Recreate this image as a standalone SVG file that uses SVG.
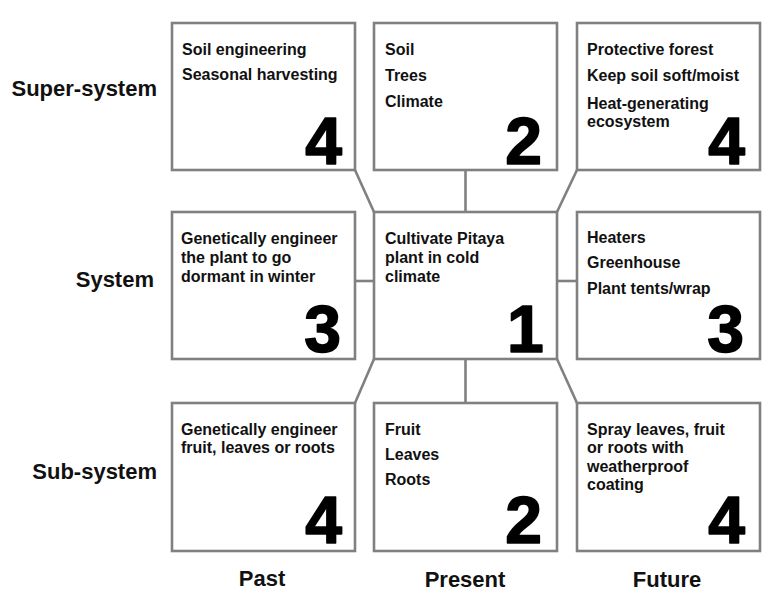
<svg xmlns="http://www.w3.org/2000/svg" width="774" height="596" viewBox="0 0 774 596">
<style>
.box{fill:#fff;stroke:#808080;stroke-width:2.6}
.conn line{stroke:#808080;stroke-width:2.6}
.t{font-family:"Liberation Sans",Arial,sans-serif;font-weight:bold;font-size:16px;fill:#111}
.num{font-family:"Liberation Sans",Arial,sans-serif;font-weight:bold;font-size:66px;fill:#000;stroke:#000;stroke-width:1.6;stroke-linejoin:round;text-anchor:end}
.lab{font-family:"Liberation Sans",Arial,sans-serif;font-weight:bold;font-size:22px;fill:#111}
</style>
<rect width="774" height="596" fill="#fff"/>
<g id="connectors" class="conn">
<line x1="355" y1="170" x2="374" y2="212"/>
<line x1="465.5" y1="170" x2="465.5" y2="212"/>
<line x1="577" y1="170" x2="557" y2="212"/>
<line x1="355" y1="281" x2="374" y2="281"/>
<line x1="557" y1="281" x2="577" y2="281"/>
<line x1="374" y1="359" x2="355" y2="403"/>
<line x1="465.5" y1="359" x2="465.5" y2="403"/>
<line x1="557" y1="359" x2="577" y2="403"/>
</g>
<g id="past-super">
<rect class="box" x="172" y="23" width="183" height="147"/>
<text class="t" x="182" y="55">Soil engineering</text>
<text class="t" x="182" y="80">Seasonal harvesting</text>
<text class="num" x="342" y="164">4</text>
</g>
<g id="present-super">
<rect class="box" x="374" y="23" width="183" height="147"/>
<text class="t" x="385" y="55">Soil</text>
<text class="t" x="385" y="81">Trees</text>
<text class="t" x="385" y="107">Climate</text>
<text class="num" x="542" y="164">2</text>
</g>
<g id="future-super">
<rect class="box" x="577" y="23" width="183" height="147"/>
<text class="t" x="587" y="55">Protective forest</text>
<text class="t" x="587" y="81">Keep soil soft/moist</text>
<text class="t" x="587" y="109">Heat-generating</text>
<text class="t" x="587" y="127">ecosystem</text>
<text class="num" x="745" y="164">4</text>
</g>
<g id="past-system">
<rect class="box" x="172" y="212" width="183" height="147"/>
<text class="t" x="181" y="244">Genetically engineer</text>
<text class="t" x="181" y="263">the plant to go</text>
<text class="t" x="181" y="282">dormant in winter</text>
<text class="num" x="341" y="352">3</text>
</g>
<g id="present-system">
<rect class="box" x="374" y="212" width="183" height="147"/>
<text class="t" x="385" y="244">Cultivate Pitaya</text>
<text class="t" x="385" y="263">plant in cold</text>
<text class="t" x="385" y="282">climate</text>
<text class="num" x="507" y="352" style="text-anchor:start">1</text>
</g>
<g id="future-system">
<rect class="box" x="577" y="212" width="183" height="147"/>
<text class="t" x="587" y="243">Heaters</text>
<text class="t" x="587" y="268">Greenhouse</text>
<text class="t" x="587" y="294">Plant tents/wrap</text>
<text class="num" x="744" y="352">3</text>
</g>
<g id="past-sub">
<rect class="box" x="172" y="403" width="183" height="148"/>
<text class="t" x="181" y="435">Genetically engineer</text>
<text class="t" x="181" y="453">fruit, leaves or roots</text>
<text class="num" x="342" y="543">4</text>
</g>
<g id="present-sub">
<rect class="box" x="374" y="403" width="183" height="148"/>
<text class="t" x="385" y="435">Fruit</text>
<text class="t" x="385" y="460">Leaves</text>
<text class="t" x="385" y="485">Roots</text>
<text class="num" x="542" y="543">2</text>
</g>
<g id="future-sub">
<rect class="box" x="577" y="403" width="183" height="148"/>
<text class="t" x="587" y="435">Spray leaves, fruit</text>
<text class="t" x="587" y="453">or roots with</text>
<text class="t" x="587" y="472">weatherproof</text>
<text class="t" x="587" y="490">coating</text>
<text class="num" x="745" y="543">4</text>
</g>
<g id="row-labels">
<text class="lab" x="157" y="96" text-anchor="end">Super-system</text>
<text class="lab" x="154" y="287" text-anchor="end">System</text>
<text class="lab" x="157" y="479" text-anchor="end">Sub-system</text>
</g>
<g id="col-labels">
<text class="lab" x="262" y="586" text-anchor="middle">Past</text>
<text class="lab" x="465" y="587" text-anchor="middle">Present</text>
<text class="lab" x="667" y="587" text-anchor="middle">Future</text>
</g>
</svg>
